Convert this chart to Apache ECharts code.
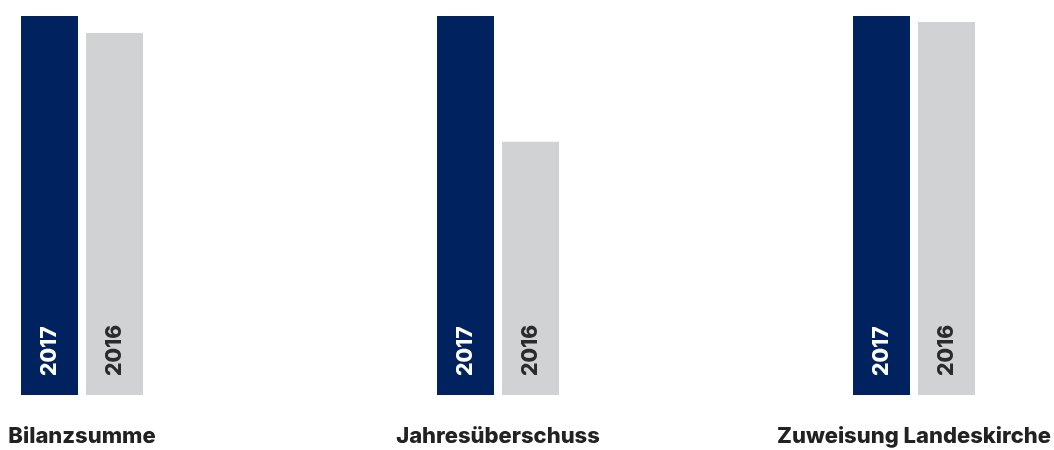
<!DOCTYPE html>
<html>
<head>
<meta charset="utf-8">
<script src="https://cdn.jsdelivr.net/npm/echarts@6/dist/echarts.min.js"></script>
<style>
  html, body { margin: 0; padding: 0; background: #ffffff; }
  #chart { width: 1054px; height: 450px; }
</style>
</head>
<body>
<div id="chart"></div>
<script>
// Key figures, 2017 indexed to 100 in each group
const categories = ['Bilanzsumme', 'Jahresüberschuss', 'Zuweisung Landeskirche'];
const years = ['2017', '2016'];
const values2017 = [100, 100, 100];
const values2016 = [95.5, 66.8, 98.4];

const colors = { '2017': '#00235f', '2016': '#d1d2d4' };
const labelColors = { '2017': '#ffffff', '2016': '#2b2b2b' };
const fontFamily = 'Inter, Roboto, "DejaVu Sans", sans-serif';

const grids = [], xAxes = [], yAxes = [], series = [];
categories.forEach((cat, i) => {
  grids.push({ left: 21 + 416 * i, width: 122, top: 16, bottom: 55 });
  xAxes.push({
    type: 'category', gridIndex: i, data: [cat],
    axisLine: { show: false }, axisTick: { show: false },
    axisLabel: {
      margin: 30, color: '#222222', fontSize: 22, fontWeight: 800,
      fontFamily: fontFamily, interval: 0
    }
  });
  yAxes.push({ type: 'value', gridIndex: i, min: 0, max: 100, show: false });
  [values2017, values2016].forEach((vals, k) => {
    const yr = years[k];
    series.push({
      type: 'bar', name: yr, xAxisIndex: i, yAxisIndex: i,
      data: [vals[i]], barWidth: 57, barGap: '14%',
      itemStyle: { color: colors[yr] },
      silent: true,
      label: {
        show: true, formatter: yr, position: 'insideBottom', distance: 19,
        rotate: 90, align: 'left', verticalAlign: 'middle',
        color: labelColors[yr], fontSize: 21, fontWeight: 800, fontFamily: fontFamily
      }
    });
  });
});

const chart = echarts.init(document.getElementById('chart'));
chart.setOption({
  animation: false,
  backgroundColor: '#ffffff',
  grid: grids, xAxis: xAxes, yAxis: yAxes, series: series
});
</script>
</body>
</html>
